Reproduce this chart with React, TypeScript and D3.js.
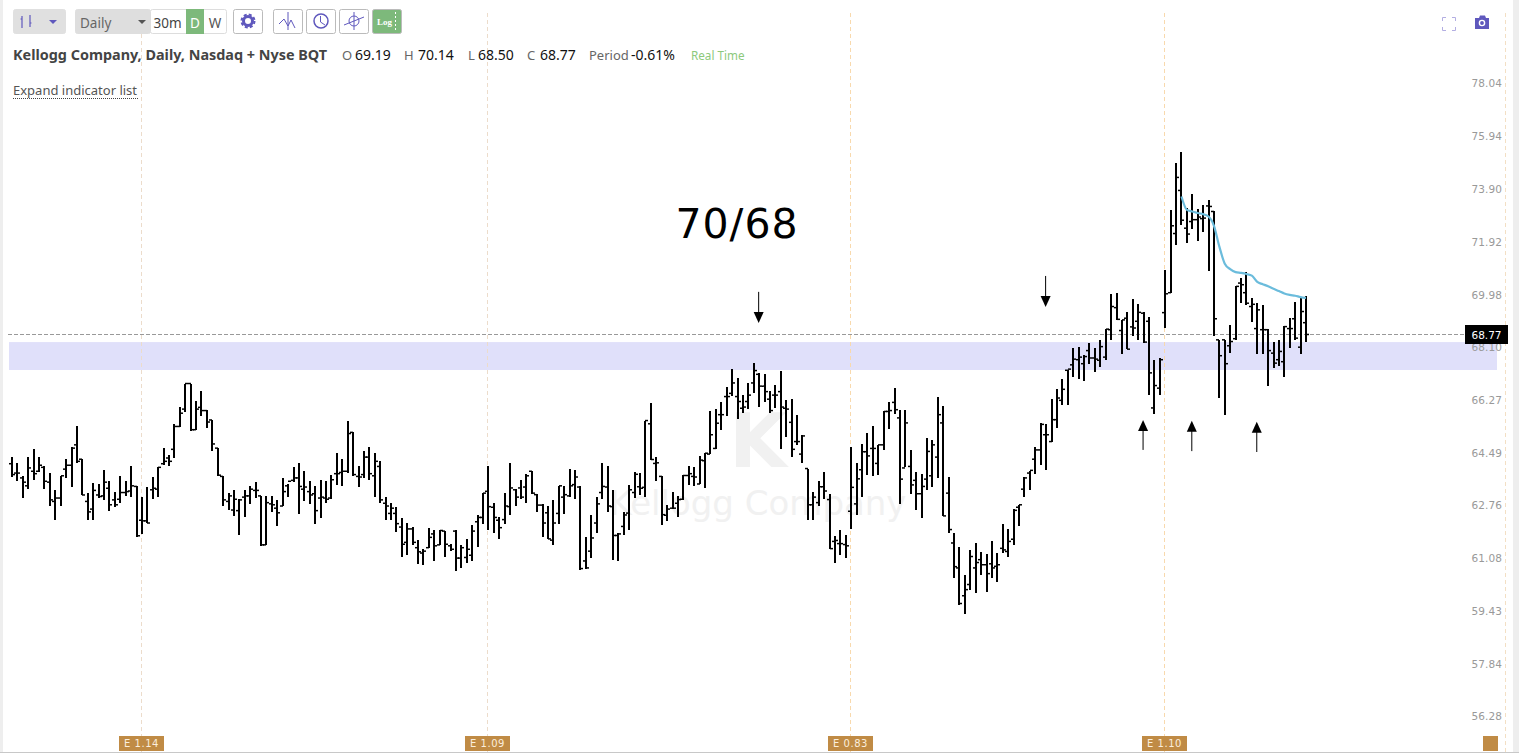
import { useEffect, useRef } from "react"
import * as d3 from "d3"

const WIDTH = 1519
const HEIGHT = 753

// daily bars, oldest first
const opens = [
  64.33,64.02,63.86,63.60,64.08,64.08,64.21,63.72,63.09,63.20,
  64.15,64.28,64.96,64.48,63.09,62.84,63.30,63.27,63.52,63.14,
  63.16,63.38,63.43,63.58,62.48,62.46,63.47,63.49,64.33,64.52,
  64.81,65.58,66.17,67.05,65.47,66.23,66.12,65.80,64.85,63.91,
  63.09,62.81,62.79,63.23,63.27,63.45,63.27,61.69,63.01,62.87,
  62.94,63.60,63.78,63.86,63.49,63.41,63.34,63.20,63.20,63.20,
  64.00,64.04,64.08,65.38,63.91,63.97,64.55,63.93,64.24,63.03,
  62.70,62.70,62.26,61.77,62.20,61.60,61.43,61.60,62.04,61.69,
  62.13,61.66,62.13,61.27,61.29,61.36,62.43,62.57,63.42,62.90,
  62.48,62.50,62.92,63.47,63.53,63.56,64.08,63.31,62.97,62.72,
  61.84,62.70,63.23,63.27,63.64,63.56,61.18,61.49,62.39,63.38,
  63.56,62.92,61.99,62.28,62.71,63.38,63.57,63.55,65.67,64.34,
  63.91,62.64,62.87,63.03,63.16,63.94,63.91,63.66,64.43,64.65,
  64.84,65.98,66.60,66.71,66.60,66.20,66.43,67.07,67.37,66.96,
  66.51,66.65,66.77,66.20,65.72,65.07,64.65,64.17,62.98,63.05,
  63.57,63.15,61.80,61.73,61.70,62.77,63.01,64.13,64.73,64.84,
  64.34,64.96,66.09,66.40,65.87,64.19,64.24,63.78,63.34,63.82,
  63.93,64.55,65.70,63.36,61.75,60.96,60.09,60.44,60.96,61.22,
  61.06,61.09,61.01,61.58,61.48,61.87,62.90,63.49,64.02,64.48,
  64.79,65.30,65.07,65.81,66.47,67.51,67.70,67.88,67.74,68.20,
  67.94,67.86,67.97,68.94,69.73,68.91,69.35,69.04,69.24,69.53,
  69.24,66.21,66.89,69.55,70.27,72.45,74.08,72.65,72.90,72.97,
  73.01,73.49,73.28,68.58,68.58,68.37,68.62,70.62,70.27,69.77,
  68.98,68.94,68.94,68.11,67.88,67.81,68.98,69.33,68.32,69.19,
]
const highs = [
  64.57,64.35,63.91,64.57,64.81,64.54,64.24,64.02,63.47,63.93,
  64.48,64.90,65.61,64.50,63.36,63.69,63.67,64.11,63.75,63.41,
  63.93,63.75,64.26,63.60,63.23,63.56,63.88,64.21,64.87,64.63,
  65.65,66.23,67.05,67.05,66.46,66.80,66.14,65.81,64.87,63.91,
  63.38,63.45,63.16,63.45,63.60,63.71,63.27,63.27,63.27,63.14,
  63.86,63.67,64.22,64.35,64.08,63.75,63.58,63.80,63.75,63.97,
  64.68,64.48,65.78,65.40,64.24,64.77,64.90,64.70,64.41,63.25,
  63.05,62.90,62.54,62.39,62.26,61.84,61.55,62.24,62.15,62.17,
  62.13,61.71,62.15,61.69,61.88,62.32,62.65,63.38,64.27,63.03,
  62.57,63.38,64.37,63.49,63.80,64.00,64.08,63.34,63.01,62.94,
  63.14,63.60,63.60,64.15,64.13,63.60,61.95,62.65,63.23,64.37,
  64.26,63.47,62.06,62.76,63.63,64.06,64.02,65.78,66.37,64.54,
  63.91,62.98,63.39,63.27,63.94,64.25,64.22,64.59,64.68,66.12,
  66.17,66.43,66.94,67.56,67.25,66.65,67.07,67.78,67.41,67.39,
  66.80,67.00,67.50,66.49,66.51,65.98,65.30,64.17,63.41,63.75,
  64.06,63.34,61.98,62.16,62.02,64.90,64.34,64.99,65.35,65.58,
  64.96,66.09,66.43,66.88,66.15,66.15,64.79,64.04,64.00,65.19,
  65.11,66.58,66.26,63.89,62.07,61.62,60.75,61.53,61.74,61.45,
  61.41,61.80,61.43,62.37,62.20,62.84,62.98,63.89,64.08,64.90,
  65.70,65.65,66.51,66.86,67.21,67.53,68.28,68.32,68.05,68.46,
  68.28,68.59,68.98,70.22,70.25,69.29,69.56,70.04,69.87,69.56,
  69.39,67.86,67.94,71.08,73.32,75.13,75.58,73.41,73.94,73.37,
  73.53,73.72,73.28,68.59,68.59,69.10,70.53,70.80,71.01,70.07,
  69.89,69.81,68.98,68.52,68.59,69.07,69.36,69.92,70.07,70.14,
]
const lows = [
  63.89,63.75,63.20,63.49,63.80,64.05,63.49,62.94,62.48,62.94,
  63.86,63.56,64.35,63.30,62.50,62.50,63.20,63.14,62.78,62.92,
  63.03,63.27,63.25,61.95,62.04,62.39,63.17,63.25,64.30,64.27,
  64.52,65.56,66.08,65.43,65.45,65.92,65.54,64.77,63.91,62.94,
  62.81,62.61,62.02,62.57,63.01,63.20,61.65,61.69,62.73,62.31,
  62.94,63.23,63.71,62.68,63.09,63.01,62.37,62.54,63.03,63.16,
  63.64,63.60,64.02,63.93,63.56,63.86,63.80,63.23,63.03,62.48,
  62.50,62.10,61.29,61.38,61.69,61.07,61.05,61.58,61.18,61.69,
  61.29,61.51,60.85,60.96,61.11,61.18,61.62,62.35,62.15,62.06,
  61.88,62.35,62.65,62.94,63.16,63.03,63.34,62.76,61.95,61.88,
  61.69,62.35,62.68,63.23,63.16,60.88,60.94,61.27,62.06,63.16,
  62.76,61.22,61.18,62.02,62.16,63.21,63.30,63.23,64.45,63.75,
  62.34,62.44,62.84,62.60,63.14,63.64,63.60,63.66,63.52,64.65,
  64.81,65.45,65.94,66.62,65.84,66.03,66.17,66.73,66.24,66.43,
  66.05,66.20,64.81,65.22,64.54,64.96,64.34,62.50,62.48,62.95,
  63.16,61.57,61.11,61.37,61.27,62.20,62.66,63.23,63.94,63.91,
  63.94,64.79,65.49,66.01,63.01,64.22,63.34,62.82,62.55,63.47,
  63.56,63.86,62.62,62.07,60.65,59.81,59.53,60.26,60.16,60.75,
  60.20,60.65,60.52,61.43,61.30,61.69,62.28,63.23,63.45,64.00,
  64.30,64.13,65.07,65.53,66.32,66.32,67.28,67.22,67.13,67.74,
  67.44,67.62,67.86,68.58,69.29,68.09,68.25,68.70,68.58,68.46,
  66.66,66.02,66.66,69.00,70.25,72.03,72.78,72.09,72.62,72.18,
  72.50,71.07,68.70,66.55,65.98,68.11,68.58,69.89,69.83,69.21,
  68.09,68.09,66.97,67.59,67.65,67.28,68.28,68.58,68.09,68.50,
]
const closes = [
  63.97,64.02,63.72,64.19,64.00,64.28,63.75,63.14,63.20,63.93,
  64.28,64.85,64.41,63.30,62.75,63.45,63.25,63.72,62.98,62.98,
  63.38,63.41,63.60,61.98,62.46,62.39,63.52,64.21,64.41,64.41,
  65.58,66.03,67.05,65.47,66.17,66.12,65.73,64.99,63.95,63.14,
  63.27,63.16,63.14,63.27,63.49,63.45,61.69,63.05,62.98,62.72,
  63.41,63.75,63.86,63.58,63.56,63.30,62.79,63.23,63.16,63.80,
  64.00,64.08,65.34,63.97,63.89,64.55,64.00,64.41,63.14,62.94,
  62.87,62.37,61.71,62.20,61.77,61.47,61.49,61.93,61.66,62.15,
  61.71,61.55,61.27,61.60,61.55,62.13,62.57,63.36,62.92,62.57,
  62.24,62.94,63.53,63.23,63.23,63.93,63.36,62.97,62.39,61.88,
  62.39,63.60,63.31,63.60,63.89,60.94,60.96,61.91,63.01,63.58,
  62.94,61.99,62.04,62.65,63.47,63.98,63.52,65.78,64.47,64.36,
  62.66,62.84,62.87,63.15,63.94,64.00,63.89,64.45,64.68,65.30,
  65.69,65.98,66.60,67.07,66.43,66.24,66.65,67.50,66.96,66.77,
  66.12,66.65,66.24,66.17,64.81,65.07,65.26,62.98,63.23,63.57,
  63.43,61.57,61.83,61.73,61.66,63.55,63.83,64.73,64.59,64.84,
  64.96,66.09,66.12,66.15,63.82,65.70,63.63,63.34,63.58,64.74,
  64.96,65.98,62.62,62.18,61.00,59.85,60.28,61.32,61.13,61.06,
  60.78,60.96,61.06,61.53,61.80,62.80,62.98,63.86,64.11,64.79,
  65.65,65.30,65.81,66.55,66.85,67.55,67.90,67.97,67.99,67.94,
  67.90,68.34,68.96,69.77,69.31,69.29,68.25,69.00,69.56,68.50,
  67.42,66.98,67.88,70.23,72.74,74.58,72.95,72.43,72.97,73.07,
  73.03,73.47,69.33,68.02,67.74,68.52,70.50,70.56,69.89,69.85,
  69.65,68.94,68.20,67.76,68.17,69.05,68.98,68.64,69.59,68.77,
]

// the blue average only runs over the last bars
const avgStart = 216
const avgValues = [
  73.85,73.34,73.28,73.22,73.18,73.09,72.74,71.96,71.33,71.13,71.02,70.99,
  70.95,70.89,70.66,70.58,70.50,70.41,70.33,70.24,70.19,70.16,70.11,70.08,
]

const priceTicks = [78.04, 75.94, 73.9, 71.92, 69.98, 68.1, 66.27, 64.49, 62.76, 61.08, 59.43, 57.84, 56.28]
const lastPrice = 68.77
const zoneTop = 68.5
const zoneBottom = 67.52

const earningsIndex = [24, 88, 155, 213]
const earningsLabels = ["E 1.14", "E 1.09", "E 0.83", "E 1.10"]
const earningsLineColors = ["#ecdccb", "#ecdccb", "#f8d9ad", "#f8d9ad"]

const downArrowIndex = [138, 191]
const downArrowTail = [70.3, 70.88]
const downArrowTip = [69.18, 69.75]
const upArrowIndex = [209, 218, 230]
const upArrowTail = [64.79, 64.75, 64.72]
const upArrowTip = [65.8, 65.77, 65.74]

const quoteLabels = ["O", "H", "L", "C", "Period"]
const quoteValues = ["69.19", "70.14", "68.50", "68.77", "-0.61%"]
const quoteLabelX = [342, 404, 468, 527, 589]
const quoteValueX = [355, 418, 478, 540, 631]

const PURPLE = "#5f58bd"
const GREEN = "#7db97b"
const UI_FONT = "'Noto Sans', sans-serif"
const AXIS_FONT = "'DejaVu Sans', sans-serif"

export default function App() {
  const svgRef = useRef<SVGSVGElement | null>(null)

  useEffect(() => {
    if (!svgRef.current) return
    const svg = d3.select(svgRef.current)
    svg.selectAll("*").remove()

    const x = d3.scaleLinear().domain([0, 239]).range([12, 1306])
    const y = d3.scaleLog().domain([56.28, 78.04]).range([722.6, 89.6])

    // page frame
    svg.append("rect").attr("width", WIDTH).attr("height", HEIGHT).attr("fill", "#fff")
    svg.append("rect").attr("width", 3).attr("height", HEIGHT).attr("fill", "#eeeeee")
    svg.append("rect").attr("x", 1513).attr("width", 6).attr("height", HEIGHT).attr("fill", "#eeeeee")
    svg.append("rect").attr("y", 752).attr("width", WIDTH).attr("height", 1).attr("fill", "#c8c8c8")

    // watermark
    const mark = svg.append("g").attr("fill", "#f1f1f1").attr("text-anchor", "middle").attr("font-family", AXIS_FONT)
    mark.append("text").attr("x", 758).attr("y", 467).attr("font-size", 74).attr("font-weight", 700).text("K")
    mark.append("text").attr("x", 758).attr("y", 515).attr("font-size", 34).text("Kellogg Company")

    // supply zone
    svg
      .append("rect")
      .attr("x", 9)
      .attr("y", y(zoneTop))
      .attr("width", 1488)
      .attr("height", y(zoneBottom) - y(zoneTop))
      .attr("fill", "#e0e0fa")

    // earnings verticals
    svg
      .append("g")
      .selectAll("line")
      .data(earningsIndex)
      .join("line")
      .attr("x1", (d) => Math.round(x(d)) - 0.5)
      .attr("x2", (d) => Math.round(x(d)) - 0.5)
      .attr("y1", 13)
      .attr("y2", 752)
      .attr("stroke", (_, i) => earningsLineColors[i])
      .attr("stroke-dasharray", "4 3")
    svg
      .append("line")
      .attr("x1", 1505.5)
      .attr("x2", 1505.5)
      .attr("y1", 13)
      .attr("y2", 752)
      .attr("stroke", "#f3dfc4")
      .attr("stroke-dasharray", "4 3")

    // last price line
    svg
      .append("line")
      .attr("x1", 8)
      .attr("x2", 1465)
      .attr("y1", Math.round(y(lastPrice)) + 0.5)
      .attr("y2", Math.round(y(lastPrice)) + 0.5)
      .attr("stroke", "#999")
      .attr("stroke-dasharray", "4 2")

    // price axis, labels sit a little above their level
    const axis = svg
      .append("g")
      .attr("transform", "translate(1502,0)")
      .call(d3.axisLeft(y).tickValues(priceTicks).tickSize(0).tickPadding(0).tickFormat(d3.format(".2f")))
    axis.select(".domain").remove()
    axis
      .selectAll("text")
      .attr("y", -6)
      .attr("fill", "#999")
      .attr("font-family", AXIS_FONT)
      .attr("font-size", 10.5)
      .attr("letter-spacing", 0.1)

    svg
      .append("rect")
      .attr("x", 1465)
      .attr("y", 325)
      .attr("width", 43)
      .attr("height", 19)
      .attr("fill", "#000")
    svg
      .append("text")
      .attr("x", 1486.5)
      .attr("y", 338.5)
      .attr("text-anchor", "middle")
      .attr("fill", "#fff")
      .attr("font-family", AXIS_FONT)
      .attr("font-size", 10.5)
      .text(lastPrice.toFixed(2))

    // OHLC bars
    const bars = svg
      .append("g")
      .attr("stroke", "#000")
      .selectAll("g")
      .data(d3.range(opens.length))
      .join("g")
    bars
      .append("line")
      .attr("shape-rendering", "crispEdges")
      .attr("x1", (d) => Math.round(x(d)))
      .attr("x2", (d) => Math.round(x(d)))
      .attr("y1", (d) => y(highs[d]))
      .attr("y2", (d) => y(lows[d]))
      .attr("stroke-width", 2)
    bars
      .append("line")
      .attr("x1", (d) => Math.round(x(d)) - 3)
      .attr("x2", (d) => Math.round(x(d)))
      .attr("y1", (d) => y(opens[d]))
      .attr("y2", (d) => y(opens[d]))
      .attr("stroke-width", 1.5)
    bars
      .append("line")
      .attr("x1", (d) => Math.round(x(d)))
      .attr("x2", (d) => Math.round(x(d)) + 3)
      .attr("y1", (d) => y(closes[d]))
      .attr("y2", (d) => y(closes[d]))
      .attr("stroke-width", 1.5)

    // average
    const avgLine = d3
      .line<number>()
      .x((_, i) => x(avgStart + i))
      .y((d) => y(d))
      .curve(d3.curveMonotoneX)
    svg
      .append("path")
      .attr("d", avgLine(avgValues))
      .attr("fill", "none")
      .attr("stroke", "#6bbcdc")
      .attr("stroke-width", 2.2)

    // hand drawn arrows
    const arrows = svg.append("g")
    downArrowIndex.forEach((d, i) => {
      const ax = x(d) - 0.5
      const tip = y(downArrowTip[i])
      arrows.append("line").attr("x1", ax).attr("x2", ax).attr("y1", y(downArrowTail[i])).attr("y2", tip - 8).attr("stroke", "#000")
      arrows.append("path").attr("d", `M${ax - 5},${tip - 11}L${ax + 5},${tip - 11}L${ax},${tip}Z`).attr("fill", "#000")
    })
    upArrowIndex.forEach((d, i) => {
      const ax = x(d) - 0.5
      const tip = y(upArrowTip[i])
      arrows.append("line").attr("x1", ax).attr("x2", ax).attr("y1", y(upArrowTail[i])).attr("y2", tip + 8).attr("stroke", "#000")
      arrows.append("path").attr("d", `M${ax - 5},${tip + 11}L${ax + 5},${tip + 11}L${ax},${tip}Z`).attr("fill", "#000")
    })

    svg
      .append("text")
      .attr("x", 737)
      .attr("y", 238)
      .attr("text-anchor", "middle")
      .attr("font-family", AXIS_FONT)
      .attr("font-size", 41)
      .attr("letter-spacing", 1)
      .attr("fill", "#000")
      .text("70/68")

    // earnings flags along the bottom
    const flags = svg.append("g").selectAll("g").data(earningsIndex).join("g")
    flags
      .append("rect")
      .attr("x", (d) => Math.round(x(d)) - 23)
      .attr("y", 736)
      .attr("width", 45)
      .attr("height", 15)
      .attr("fill", "#c08b45")
    flags
      .append("text")
      .attr("x", (d) => Math.round(x(d)) - 0.5)
      .attr("y", 747)
      .attr("text-anchor", "middle")
      .attr("fill", "#fbeedd")
      .attr("font-family", AXIS_FONT)
      .attr("font-size", 10)
      .attr("letter-spacing", 0.5)
      .text((_, i) => earningsLabels[i])
    svg.append("rect").attr("x", 1483).attr("y", 736).attr("width", 15).attr("height", 15).attr("fill", "#c08b45")

    // toolbar
    const bar = svg.append("g").attr("font-family", UI_FONT)
    const btn = (bx: number, w: number, fill: string, stroke: string) =>
      bar
        .append("rect")
        .attr("x", bx + 0.5)
        .attr("y", 9.5)
        .attr("width", w)
        .attr("height", 24)
        .attr("rx", 2)
        .attr("fill", fill)
        .attr("stroke", stroke)

    btn(13, 52, "#e0e0e0", "#e0e0e0")
    bar.append("path").attr("d", "M22,16V28M20.5,19H22M30,15V27M30,23H31.5").attr("stroke", PURPLE).attr("stroke-width", 1.2).attr("fill", "none")
    bar.append("path").attr("d", "M49,20H57L53,24Z").attr("fill", PURPLE)

    btn(75, 75, "#dedede", "#dedede")
    bar.append("text").attr("x", 80).attr("y", 28).attr("font-size", 13.5).attr("fill", "#666").text("Daily")
    bar.append("path").attr("d", "M138,20H146L142,24Z").attr("fill", "#555")
    btn(150, 76, "#fff", "#ddd")
    bar.append("rect").attr("x", 186).attr("y", 9).attr("width", 18).attr("height", 25).attr("fill", GREEN)
    bar.append("text").attr("x", 167.5).attr("y", 28).attr("text-anchor", "middle").attr("font-size", 13.5).attr("fill", "#444").text("30m")
    bar.append("text").attr("x", 195).attr("y", 28).attr("text-anchor", "middle").attr("font-size", 13.5).attr("fill", "#fff").text("D")
    bar.append("text").attr("x", 215).attr("y", 28).attr("text-anchor", "middle").attr("font-size", 13.5).attr("fill", "#555").text("W")

    btn(233, 29, "#fff", "#bbb")
    bar.append("circle").attr("cx", 248).attr("cy", 21).attr("r", 4.5).attr("fill", "none").attr("stroke", PURPLE).attr("stroke-width", 3)
    bar.append("circle").attr("cx", 248).attr("cy", 21).attr("r", 6.5).attr("fill", "none").attr("stroke", PURPLE).attr("stroke-width", 2).attr("stroke-dasharray", "3 2.1")

    btn(273, 29, "#fff", "#bbb")
    bar.append("path").attr("d", "M279,24L284,19L288,26L291,20L295,28M288,12V30").attr("fill", "none").attr("stroke", PURPLE)
    btn(306, 29, "#fff", "#bbb")
    bar.append("circle").attr("cx", 321).attr("cy", 21).attr("r", 7).attr("fill", "none").attr("stroke", PURPLE).attr("stroke-width", 1.5)
    bar.append("path").attr("d", "M320.5,16V22L325,25").attr("fill", "none").attr("stroke", PURPLE)
    btn(339, 29, "#fff", "#bbb")
    bar.append("circle").attr("cx", 354).attr("cy", 21).attr("r", 5).attr("fill", "none").attr("stroke", PURPLE)
    bar.append("path").attr("d", "M344,25L364,17M354,12V30").attr("fill", "none").attr("stroke", PURPLE)
    btn(372, 29, GREEN, "#bbb")
    bar.append("text").attr("x", 377).attr("y", 25).attr("font-family", "'Liberation Serif', serif").attr("font-size", 9).attr("font-weight", 700).attr("fill", "#fff").text("Log")
    bar.append("path").attr("d", "M395.5,12V32").attr("stroke", "#fff").attr("stroke-dasharray", "2 2")

    // header text
    const head = svg.append("g").attr("font-family", UI_FONT).attr("font-size", 13)
    head.append("text").attr("x", 13).attr("y", 60).attr("font-size", 14.4).attr("font-weight", 700).attr("fill", "#444").text("Kellogg Company, Daily, Nasdaq + Nyse BQT")
    quoteLabels.forEach((d, i) => {
      head.append("text").attr("x", quoteLabelX[i]).attr("y", 60).attr("fill", "#666").text(d)
      head.append("text").attr("x", quoteValueX[i]).attr("y", 60).attr("font-size", 14).attr("fill", "#111").text(quoteValues[i])
    })
    head.append("text").attr("x", 691).attr("y", 60).attr("font-size", 11.7).attr("fill", "#8cc97c").text("Real Time")
    head.append("text").attr("x", 13).attr("y", 95).attr("fill", "#555").text("Expand indicator list")
    head.append("line").attr("x1", 13).attr("x2", 138).attr("y1", 98.5).attr("y2", 98.5).attr("stroke", "#444").attr("stroke-dasharray", "1 1")

    // corner icons
    svg
      .append("path")
      .attr("d", "M1442.5,21V17.5H1446M1452,17.5H1455.5V21M1455.5,27V30.5H1452M1446,30.5H1442.5V27")
      .attr("fill", "none")
      .attr("stroke", "#b3aee2")
    svg
      .append("path")
      .attr("d", "M1475,18H1479L1480,15.5H1485L1486,18H1489V29H1475Z")
      .attr("fill", PURPLE)
    svg.append("circle").attr("cx", 1482).attr("cy", 23).attr("r", 2.6).attr("fill", "none").attr("stroke", "#fff").attr("stroke-width", 1.4)
  }, [])

  return (
    <svg
      ref={svgRef}
      width={WIDTH}
      height={HEIGHT}
      style={{ position: "absolute", left: 0, top: 0, display: "block" }}
    />
  )
}
